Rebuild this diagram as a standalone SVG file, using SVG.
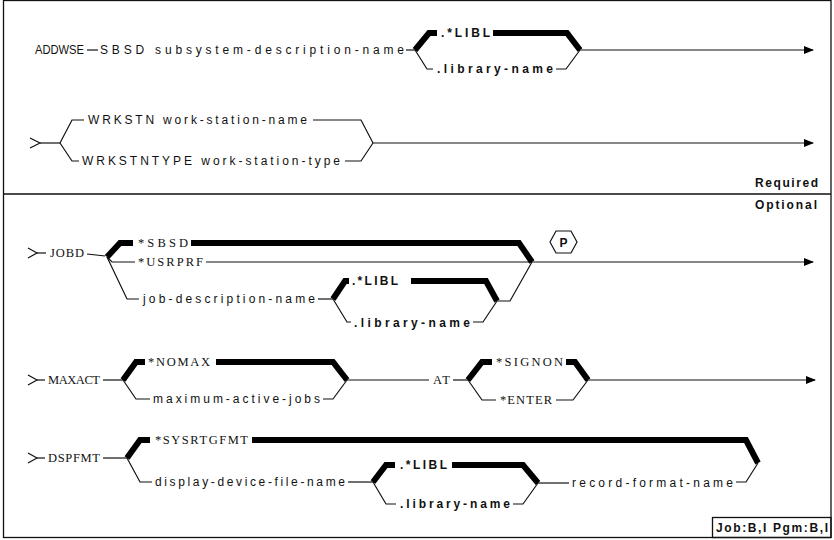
<svg xmlns="http://www.w3.org/2000/svg" width="834" height="540" viewBox="0 0 834 540">
<style>
.t{font-family:"Liberation Sans",Arial,sans-serif;font-size:12px;fill:#111}
.s{font-family:"Liberation Serif","Times New Roman",serif;font-size:12.5px;fill:#111}
.b{font-weight:bold}
.thin{fill:none;stroke:#111;stroke-width:1.2}
.thick{fill:none;stroke:#000;stroke-width:6;stroke-linejoin:miter}
.frame{fill:none;stroke:#111;stroke-width:1.3}
</style>
<defs>
<marker id="arr" markerWidth="10" markerHeight="8" refX="9" refY="4" orient="auto" markerUnits="userSpaceOnUse">
<path d="M0,0 L10,4 L0,8 Z" fill="#000"/>
</marker>
</defs>
<rect x="0" y="0" width="834" height="540" fill="#fff"/>
<g id="frame">
<rect class="frame" x="3.5" y="0.5" width="827.5" height="537"/>
<line class="frame" x1="3.5" y1="194" x2="831" y2="194"/>
</g>

<g id="connectors">
<!-- row 1 -->
<path class="thin" d="M87,50 L98,50"/>
<path class="thin" d="M406,50 L415,50"/>
<path class="thick" d="M415,50 L429,33 L437,33"/>
<path class="thick" d="M493,33 L567,33 L580,50"/>
<path class="thin" d="M415,50 L427,69 L433,69"/>
<path class="thin" d="M556,69 L566,69 L580,50"/>
<path class="thin" d="M580,50 L813,50" marker-end="url(#arr)"/>
<!-- row 2 -->
<path class="thin" d="M30,138 L40,143 L30,148"/>
<path class="thin" d="M40,143 L60,143"/>
<path class="thin" d="M60,143 L72,120 L84,120"/>
<path class="thin" d="M60,143 L72,161 L79,161"/>
<path class="thin" d="M313,120 L361,120 L373,143"/>
<path class="thin" d="M345,161 L361,161 L373,143"/>
<path class="thin" d="M373,143 L813,143" marker-end="url(#arr)"/>
<!-- JOBD -->
<path class="thin" d="M28,248 L37,253 L28,258"/>
<path class="thin" d="M37,253 L46,253"/>
<path class="thin" d="M87,254 L105,256"/>
<path class="thick" d="M107,257 L120,243 L133,243"/>
<path class="thin" d="M107,257 L112,262 L135,262"/>
<path class="thin" d="M206,262 L532,262"/>
<path class="thick" d="M191,243 L519,243 L532,262"/>
<path class="thin" d="M107,257 L127,299 L139,299"/>
<path class="thin" d="M318,299 L333,299"/>
<path class="thick" d="M333,299 L345,281 L349,281"/>
<path class="thick" d="M411,281 L486,281 L497,301"/>
<path class="thin" d="M333,299 L347,322 L351,322"/>
<path class="thin" d="M473,322 L483,322 L497,301 L510,301 L532,262"/>
<path class="thin" d="M532,262 L813,262" marker-end="url(#arr)"/>
<!-- MAXACT -->
<path class="thin" d="M28,375 L37,380 L28,385"/>
<path class="thin" d="M37,380 L45,380"/>
<path class="thin" d="M103,380 L123,380"/>
<path class="thick" d="M123,380 L136,362 L145,362"/>
<path class="thick" d="M216,362 L333,362 L347,380"/>
<path class="thin" d="M123,380 L136,399 L150,399"/>
<path class="thin" d="M323,399 L333,399 L347,380"/>
<path class="thin" d="M347,380 L429,380"/>
<path class="thin" d="M453,380 L468,380"/>
<path class="thick" d="M468,380 L482,362 L492,362"/>
<path class="thick" d="M566,362 L575,362 L588,380"/>
<path class="thin" d="M468,380 L482,400 L496,400"/>
<path class="thin" d="M556,400 L573,400 L588,380"/>
<path class="thin" d="M588,380 L815,380" marker-end="url(#arr)"/>
<!-- DSPFMT -->
<path class="thin" d="M28,453 L37,458 L28,463"/>
<path class="thin" d="M37,458 L45,458"/>
<path class="thin" d="M103,458 L127,458"/>
<path class="thick" d="M127,458 L140,440 L150,440"/>
<path class="thick" d="M252,440 L746,440 L758,463"/>
<path class="thin" d="M127,458 L140,482 L152,482"/>
<path class="thin" d="M348,482 L373,482"/>
<path class="thick" d="M373,482 L386,465 L395,465"/>
<path class="thick" d="M452,465 L523,465 L538,483"/>
<path class="thin" d="M373,482 L386,504 L396,504"/>
<path class="thin" d="M513,504 L523,504 L538,483"/>
<path class="thin" d="M538,483 L569,483"/>
<path class="thin" d="M736,482 L746,482 L758,463"/>
</g>

<g id="n-addwse"><text class="t" x="35" y="54" textLength="49" lengthAdjust="spacingAndGlyphs">ADDWSE</text></g>
<g id="n-sbsd"><text class="t" x="100" y="54" textLength="304" lengthAdjust="spacing">SBSD subsystem-description-name</text></g>
<g id="n-libl1"><text class="t b" x="441" y="37" textLength="49" lengthAdjust="spacing">.*LIBL</text></g>
<g id="n-lib1"><text class="t b" x="437" y="73" textLength="116" lengthAdjust="spacing">.library-name</text></g>
<g id="n-wrkstn"><text class="t" x="88" y="124" textLength="219" lengthAdjust="spacing">WRKSTN work-station-name</text></g>
<g id="n-wrkstntype"><text class="t" x="82" y="165" textLength="258" lengthAdjust="spacing">WRKSTNTYPE work-station-type</text></g>
<g id="n-required"><text class="t b" x="755" y="187" textLength="63" lengthAdjust="spacing">Required</text></g>
<g id="n-optional"><text class="t b" x="755" y="209" textLength="62" lengthAdjust="spacing">Optional</text></g>

<g id="n-jobd"><text class="s" x="50" y="257" textLength="34" lengthAdjust="spacing">JOBD</text></g>
<g id="n-sbsd2"><text class="s" x="138" y="247" textLength="50" lengthAdjust="spacing">*SBSD</text></g>
<g id="n-usrprf"><text class="s" x="138" y="266" textLength="65" lengthAdjust="spacing">*USRPRF</text></g>
<g id="n-jobdname"><text class="t" x="143" y="303" textLength="172" lengthAdjust="spacing">job-description-name</text></g>
<g id="n-libl2"><text class="t b" x="352" y="285" textLength="46" lengthAdjust="spacing">.*LIBL</text></g>
<g id="n-lib2"><text class="t b" x="354" y="327" textLength="116" lengthAdjust="spacing">.library-name</text></g>
<g id="n-p">
<polygon class="thin" points="550,242 556,231 571,231 577,242 571,253 556,253"/>
<text class="t b" x="563.5" y="246.5" text-anchor="middle">P</text>
</g>

<g id="n-maxact"><text class="s" x="48" y="384" textLength="52" lengthAdjust="spacing">MAXACT</text></g>
<g id="n-nomax"><text class="s" x="148" y="366" textLength="62" lengthAdjust="spacing">*NOMAX</text></g>
<g id="n-maxjobs"><text class="t" x="153" y="403" textLength="167" lengthAdjust="spacing">maximum-active-jobs</text></g>
<g id="n-at"><text class="s" x="433" y="384" textLength="17" lengthAdjust="spacing">AT</text></g>
<g id="n-signon"><text class="s" x="496" y="366" textLength="67" lengthAdjust="spacing">*SIGNON</text></g>
<g id="n-enter"><text class="s" x="500" y="404" textLength="52" lengthAdjust="spacing">*ENTER</text></g>

<g id="n-dspfmt"><text class="s" x="48" y="462" textLength="52" lengthAdjust="spacing">DSPFMT</text></g>
<g id="n-sysrtgfmt"><text class="s" x="155" y="444" textLength="93" lengthAdjust="spacing">*SYSRTGFMT</text></g>
<g id="n-devname"><text class="t" x="155" y="486" textLength="190" lengthAdjust="spacing">display-device-file-name</text></g>
<g id="n-libl3"><text class="t b" x="400" y="469" textLength="47" lengthAdjust="spacing">.*LIBL</text></g>
<g id="n-lib3"><text class="t b" x="400" y="508" textLength="110" lengthAdjust="spacing">.library-name</text></g>
<g id="n-recfmt"><text class="t" x="572" y="487" textLength="161" lengthAdjust="spacing">record-format-name</text></g>

<g id="n-jobpgm">
<rect class="frame" x="712.5" y="517.5" width="118.5" height="20"/>
<text class="t b" x="716" y="532" textLength="112" lengthAdjust="spacing">Job:B,I Pgm:B,I</text>
</g>
</svg>
